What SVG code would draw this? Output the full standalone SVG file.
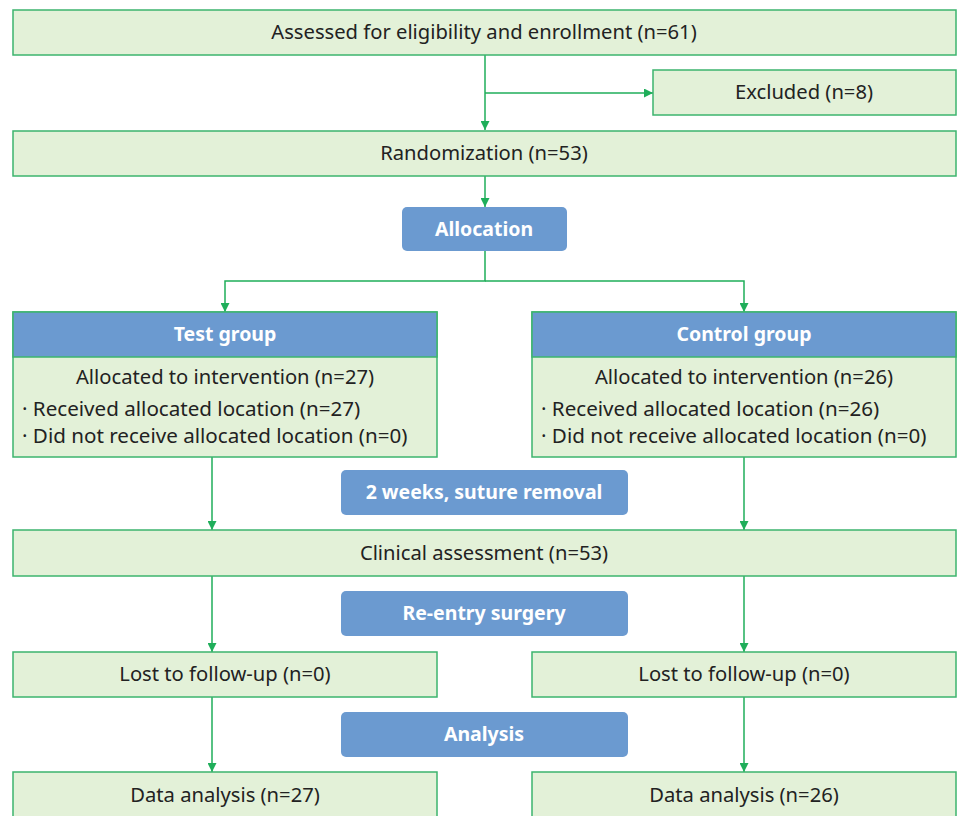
<svg xmlns="http://www.w3.org/2000/svg" width="960" height="816" viewBox="0 0 960 816">
<style>
.box{fill:#e3f1d8;stroke:#3cb46e;stroke-width:1.5}
.hdr{fill:#6b9ad0;stroke:#3cb46e;stroke-width:1.5}
.blue{fill:#6b9ad0}
.t{font-family:"Noto Sans",sans-serif;font-size:20.2px;fill:#222;text-anchor:middle}
.l{font-family:"Noto Sans",sans-serif;font-size:20.6px;fill:#222}
.w{font-family:"Noto Sans",sans-serif;font-size:19.5px;font-weight:bold;fill:#fff;text-anchor:middle}
.c{fill:none;stroke:#1fae5a;stroke-width:1.5}
</style>
<defs>
<marker id="ah" viewBox="0 0 10 10" refX="10" refY="5" markerWidth="9" markerHeight="9" markerUnits="userSpaceOnUse" orient="auto">
<path d="M0,0 L10,5 L0,10 z" fill="#1fae5a"/>
</marker>
</defs>
<g id="connectors">
<path class="c" d="M485,55 V130" marker-end="url(#ah)"/>
<path class="c" d="M485,93 H653" marker-end="url(#ah)"/>
<path class="c" d="M485,176 V207" marker-end="url(#ah)"/>
<path class="c" d="M485,251 V281 H225 V312" marker-end="url(#ah)"/>
<path class="c" d="M485,281 H744 V312" marker-end="url(#ah)"/>
<path class="c" d="M212,457 V530" marker-end="url(#ah)"/>
<path class="c" d="M744,457 V530" marker-end="url(#ah)"/>
<path class="c" d="M212,576 V652" marker-end="url(#ah)"/>
<path class="c" d="M744,576 V652" marker-end="url(#ah)"/>
<path class="c" d="M212,697 V772" marker-end="url(#ah)"/>
<path class="c" d="M744,697 V772" marker-end="url(#ah)"/>
</g>
<g id="assessed"><rect class="box" x="13" y="10" width="943" height="45"/><text class="t" x="484" y="39">Assessed for eligibility and enrollment (n=61)</text></g>
<g id="excluded"><rect class="box" x="653" y="70" width="303" height="45"/><text class="t" x="804" y="99">Excluded (n=8)</text></g>
<g id="randomization"><rect class="box" x="13" y="131" width="943" height="45"/><text class="t" x="484" y="160">Randomization (n=53)</text></g>
<g id="allocation"><rect class="blue" x="402" y="207" width="165" height="44" rx="5"/><text class="w" x="484" y="236">Allocation</text></g>
<g id="test-group">
<rect class="box" x="13" y="312" width="424" height="145"/>
<rect class="hdr" x="13" y="312" width="424" height="45"/>
<text class="w" x="225" y="341">Test group</text>
<text class="t" x="225" y="384">Allocated to intervention (n=27)</text>
<text class="l" x="22" y="416">· Received allocated location (n=27)</text>
<text class="l" x="22" y="443">· Did not receive allocated location (n=0)</text>
</g>
<g id="control-group">
<rect class="box" x="532" y="312" width="424" height="145"/>
<rect class="hdr" x="532" y="312" width="424" height="45"/>
<text class="w" x="744" y="341">Control group</text>
<text class="t" x="744" y="384">Allocated to intervention (n=26)</text>
<text class="l" x="541" y="416">· Received allocated location (n=26)</text>
<text class="l" x="541" y="443">· Did not receive allocated location (n=0)</text>
</g>
<g id="suture"><rect class="blue" x="341" y="470" width="287" height="45" rx="5"/><text class="w" x="484" y="499">2 weeks, suture removal</text></g>
<g id="clinical"><rect class="box" x="13" y="530" width="943" height="46"/><text class="t" x="484" y="560">Clinical assessment (n=53)</text></g>
<g id="reentry"><rect class="blue" x="341" y="591" width="287" height="45" rx="5"/><text class="w" x="484" y="620">Re-entry surgery</text></g>
<g id="lost-test"><rect class="box" x="13" y="652" width="424" height="45"/><text class="t" x="225" y="681">Lost to follow-up (n=0)</text></g>
<g id="lost-control"><rect class="box" x="532" y="652" width="424" height="45"/><text class="t" x="744" y="681">Lost to follow-up (n=0)</text></g>
<g id="analysis"><rect class="blue" x="341" y="712" width="287" height="45" rx="5"/><text class="w" x="484" y="741">Analysis</text></g>
<g id="data-test"><rect class="box" x="13" y="772" width="424" height="60"/><text class="t" x="225" y="802">Data analysis (n=27)</text></g>
<g id="data-control"><rect class="box" x="532" y="772" width="424" height="60"/><text class="t" x="744" y="802">Data analysis (n=26)</text></g>
</svg>
